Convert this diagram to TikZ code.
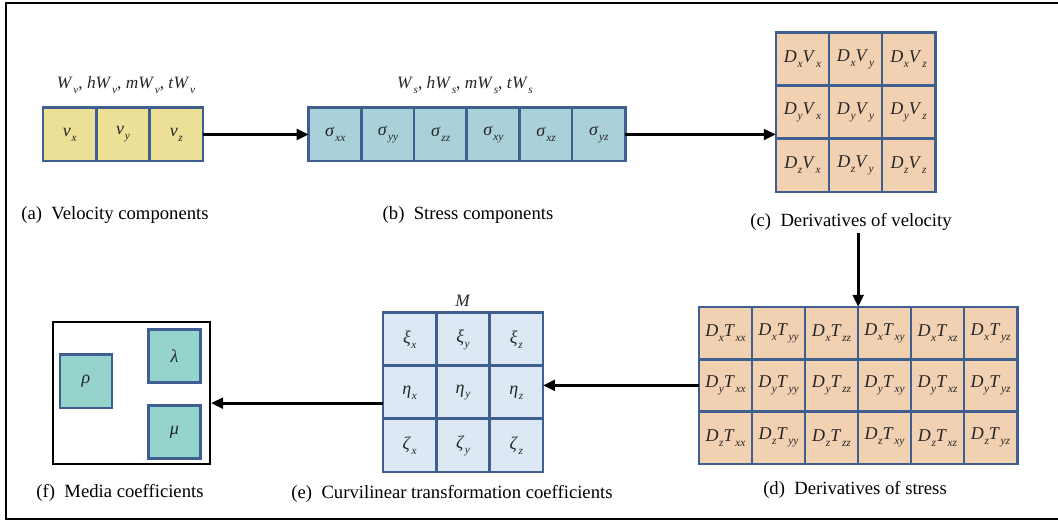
\documentclass[tikz,border=0pt]{standalone}
\usepackage{fontspec}
\setmainfont{Liberation Serif}
\usepackage{xcolor}
\usepackage{tikz}
\usetikzlibrary{arrows.meta}

\definecolor{cellblue}{HTML}{3F5F91}
\definecolor{velfill}{HTML}{ECDF96}
\definecolor{strfill}{HTML}{AAD0DA}
\definecolor{derfill}{HTML}{F2D0B2}
\definecolor{metfill}{HTML}{DCE9F4}
\definecolor{medfill}{HTML}{94D4CC}

% italic letter with a lowered italic index
\newcommand{\ix}[2]{\textit{#1}\kern0.5pt\raisebox{-0.6ex}{\fontsize{8.5}{9}\selectfont\textit{#2}}}

\tikzset{
  cell/.style={draw=cellblue, line width=2pt, minimum width=40pt, minimum height=40pt,
    inner sep=0pt, outer sep=0pt, text=black!85, font=\fontsize{13.5}{14}\selectfont},
  velbox/.style={cell, fill=velfill},
  strbox/.style={cell, fill=strfill},
  derbox/.style={cell, fill=derfill},
  metbox/.style={cell, fill=metfill},
  medbox/.style={cell, fill=medfill, minimum width=39pt, minimum height=40pt},
  caption/.style={font=\fontsize{14}{16}\selectfont, inner sep=0pt},
  toplabel/.style={font=\fontsize{13}{14}\selectfont, text=black!85, inner sep=0pt},
  link/.style={line width=2.2pt, -{Triangle[length=9pt,width=8pt]}},
}

\begin{document}
\begin{tikzpicture}[x=0.75pt,y=-0.75pt]
\useasboundingbox (0,0) rectangle (1058,523);
\draw[line width=1.6pt] (6,3) rectangle (1066,519);

% (a) velocity
\foreach \s [count=\i] in {x,y,z}
  \node[velbox] (v\i) at ({69.7+53.3*(\i-1)},134.5) {\ix{v}{\s}};
\node[toplabel] (vlab) at (126,85) {\ix{W}{v}, \textit{h}\ix{W}{v}, \textit{m}\ix{W}{v}, \textit{t}\ix{W}{v}};
\node[caption] (capa) at (115,215) {(a)~~Velocity components};

% (b) stress
\foreach \s [count=\i] in {xx,yy,zz,xy,xz,yz}
  \node[strbox] (s\i) at ({335.3+52.7*(\i-1)},134.5) {\ix{σ}{\s}};
\node[toplabel] (slab) at (465,85) {\ix{W}{s}, \textit{h}\ix{W}{s}, \textit{m}\ix{W}{s}, \textit{t}\ix{W}{s}};
\node[caption] (capb) at (468,215) {(b)~~Stress components};

% (c) derivatives of velocity
\foreach \r [count=\i] in {x,y,z}
  \foreach \s [count=\j] in {x,y,z}
    \node[derbox] (dv\i\j) at ({802.5+53*(\j-1)},{59.5+53*(\i-1)}) {\ix{D}{\r}\ix{V}{\s}};
\node[caption] (capc) at (851,222) {(c)~~Derivatives of velocity};

% (d) derivatives of stress
\foreach \r [count=\i] in {x,y,z}
  \foreach \s [count=\j] in {xx,yy,zz,xy,xz,yz}
    \node[derbox, minimum height=39.2pt] (dt\i\j) at ({725.5+53*(\j-1)},{333+52.4*(\i-1)}) {\ix{D}{\r}\ix{T}{\s}};
\node[caption] (capd) at (855,490) {(d)~~Derivatives of stress};

% (e) metric coefficients
\foreach \g [count=\i] in {ξ,η,ζ}
  \foreach \s [count=\j] in {x,y,z}
    \node[metbox] (m\i\j) at ({409.7+53.3*(\j-1)},{339.5+53*(\i-1)}) {\ix{\g}{\s}};
\node[toplabel] (mlab) at (463,301) {\textit{M}};
\node[caption] (cape) at (452,494) {(e)~~Curvilinear transformation coefficients};

% (f) media
\node[draw, line width=1.6pt, minimum width=117.75pt, minimum height=106.5pt, inner sep=0pt] (media) at (131.5,393) {};
\node[medbox] (rho) at (86,381.5) {\textit{ρ}};
\node[medbox] (lam) at (174.5,356) {\textit{λ}};
\node[medbox] (mu) at (174.5,432) {\textit{μ}};
\node[caption] (capf) at (120,493) {(f)~~Media coefficients};

% connectors
\coordinate (dstart) at (dt13.north east |- 0,233);
\draw[link] (v3.east) -- (s1.west);
\draw[link] (s6.east) -- (s6.east -| dv21.west);
\draw[link] (dstart) -- (dt13.north east);
\draw[link] (dt21.west) -- (dt21.west -| m23.east);
\draw[link] ([yshift=-8pt]m21.west) -- ([yshift=-8pt]m21.west -| media.east);
\end{tikzpicture}
\end{document}
